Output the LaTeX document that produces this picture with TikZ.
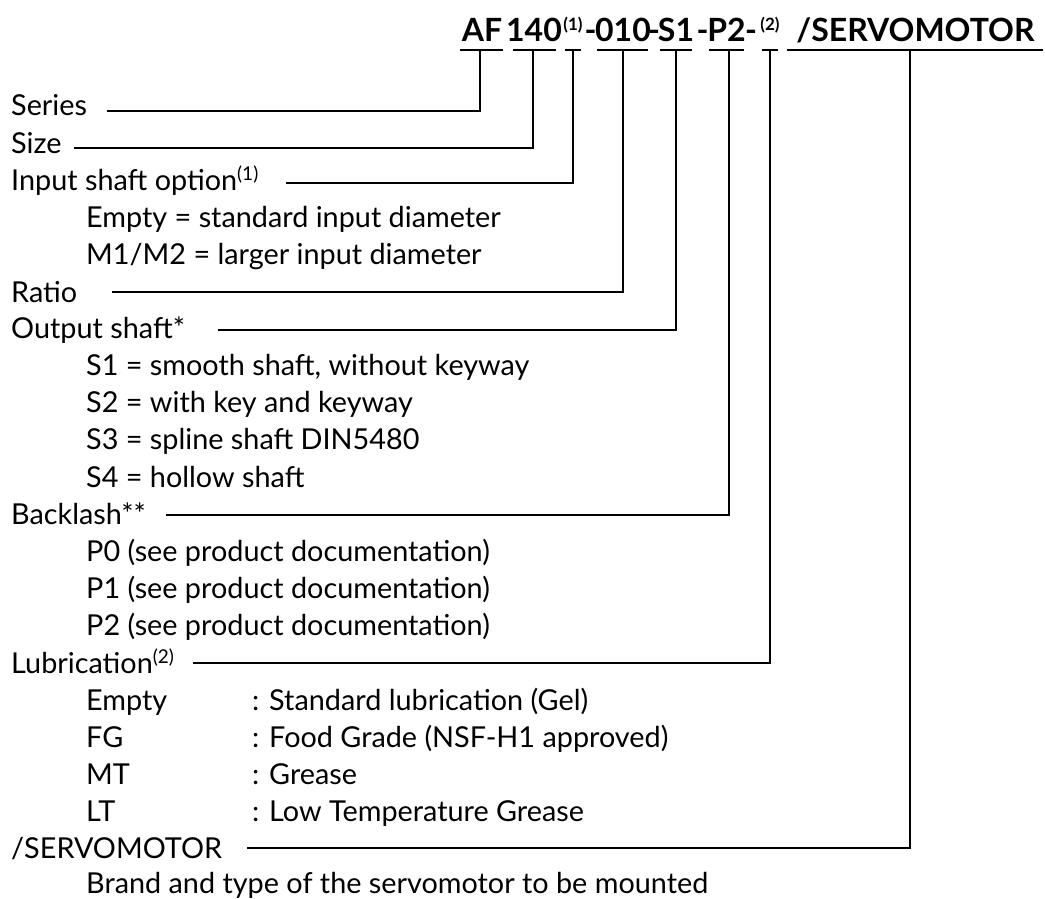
\documentclass[tikz,border=0pt]{standalone}
\usepackage{fontspec}
\setmainfont{Lato}
\newcommand\bodyfont{\fontsize{28.8}{32}\selectfont}
\newcommand\hdrfont{\fontsize{32}{38}\selectfont\bfseries}
\newcommand\mysup[1]{\raisebox{10pt}{\fontsize{19}{20}\selectfont #1}}
\tikzset{
  lbl/.style={anchor=base west, inner sep=0pt, font=\bodyfont},
  hdr/.style={anchor=base, inner sep=0pt, font=\hdrfont},
  hsup/.style={anchor=base, inner sep=0pt, font=\fontsize{17}{18}\selectfont\bfseries},
  conn/.style={line width=1.7pt, line join=miter},
  uline/.style={line width=1.9pt}
}
\begin{document}
\begin{tikzpicture}[x=1pt,y=-1pt]
\useasboundingbox (0,0) rectangle (1045,899);
% header
\node[hdr] (hAF) at (482,42) {AF};
\node[hdr] (h140) at (534,42) {140};
\node[hsup] (hs1) at (573,31) {(1)};
\node[hdr] (hd1) at (590.5,42) {-};
\node[hdr] (h010) at (623,42) {010};
\node[hdr] (hd2) at (654,42) {-};
\node[hdr] (hS1) at (676,42) {S1};
\node[hdr] (hd3) at (702.5,42) {-};
\node[hdr] (hP2) at (726.5,42) {P2};
\node[hdr] (hd4) at (751,42) {-};
\node[hsup] (hs2) at (770,31) {(2)};
\node[hdr] (hSV) at (915.5,42) {/SERVOMOTOR};
\foreach \n/\l/\r/\t in {AF/460/503/480, A140/513/556/533, s1/565/581/573, A010/597/648/623, S1/660/692/676, P2/709/744/729, s2/762/778/770, SV/787/1043/910} {
  \coordinate (ul\n) at (\l,50);
  \coordinate (ur\n) at (\r,50);
  \coordinate (t\n) at (\t,50);
  \draw[uline] (ul\n) -- (ur\n);
}
% labels
\node[lbl] (series) at (11,115) {Series};
\node[lbl] (size) at (11,153) {Size};
\node[lbl] (input) at (11,190) {Input shaft option\mysup{(1)}};
\node[lbl] (in1) at (86,227) {Empty = standard input diameter};
\node[lbl] (in2) at (86,264) {M1/M2 = larger input diameter};
\node[lbl] (ratio) at (11,302) {Ratio};
\node[lbl] (output) at (11,338) {Output shaft*};
\node[lbl] (o1) at (86,375) {S1 = smooth shaft, without keyway};
\node[lbl] (o2) at (86,412) {S2 = with key and keyway};
\node[lbl] (o3) at (86,449) {S3 = spline shaft DIN5480};
\node[lbl] (o4) at (86,487) {S4 = hollow shaft};
\node[lbl] (back) at (11,524) {Backlash**};
\node[lbl] (b0) at (86,561) {P0 (see product documentation)};
\node[lbl] (b1) at (86,598) {P1 (see product documentation)};
\node[lbl] (b2) at (86,635) {P2 (see product documentation)};
\node[lbl] (lub) at (11,673) {Lubrication\mysup{(2)}};
\node[lbl] (l1a) at (86,710) {Empty};
\node[lbl] (l1b) at (252,710) {: Standard lubrication (Gel)};
\node[lbl] (l2a) at (86,747) {FG};
\node[lbl] (l2b) at (252,747) {: Food Grade (NSF-H1 approved)};
\node[lbl] (l3a) at (86,784) {MT};
\node[lbl] (l3b) at (252,784) {: Grease};
\node[lbl] (l4a) at (86,821) {LT};
\node[lbl] (l4b) at (252,821) {: Low Temperature Grease};
\node[lbl] (servo) at (11,858) {/SERVOMOTOR};
\node[lbl] (brand) at (86,893) {Brand and type of the servomotor to be mounted};
% connectors
\coordinate (cSeries) at (107,111);
\coordinate (cSize) at (74,148);
\coordinate (cInput) at (286,183);
\coordinate (cRatio) at (112,292);
\coordinate (cOutput) at (218,330);
\coordinate (cBack) at (166,515);
\coordinate (cLub) at (193,663);
\coordinate (cServo) at (247,848);
\draw[conn] (cSeries) -| (tAF);
\draw[conn] (cSize) -| (tA140);
\draw[conn] (cInput) -| (ts1);
\draw[conn] (cRatio) -| (tA010);
\draw[conn] (cOutput) -| (tS1);
\draw[conn] (cBack) -| (tP2);
\draw[conn] (cLub) -| (ts2);
\draw[conn] (cServo) -| (tSV);
\end{tikzpicture}
\end{document}
